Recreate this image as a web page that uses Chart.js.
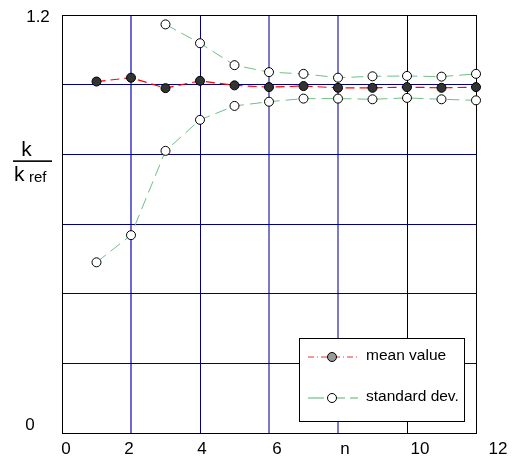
<!DOCTYPE html>
<html>
<head>
<meta charset="utf-8">
<script src="https://cdn.jsdelivr.net/npm/chart.js@4.4.1/dist/chart.umd.min.js"></script>
<style>
  html, body { margin: 0; padding: 0; background: #fff; }
  #wrap { width: 516px; height: 463px; }
</style>
</head>
<body>
<div id="wrap"><canvas id="c" width="516" height="463"></canvas></div>
<script>
// ---- data ----
const xValues    = [1, 2, 3, 4, 5, 6, 7, 8, 9, 10, 11, 12];
const meanValues = [1.009, 1.020, 0.990, 1.011, 0.998, 0.993, 0.996, 0.991, 0.991, 0.993, 0.991, 0.993];
const stdUpper   = [null, null, 1.173, 1.119, 1.056, 1.036, 1.031, 1.020, 1.024, 1.025, 1.023, 1.031];
const stdLower   = [0.490, 0.568, 0.810, 0.899, 0.939, 0.951, 0.960, 0.960, 0.958, 0.962, 0.958, 0.955];
const xTickValues = [0, 2, 4, 6, 8, 10, 12];
const xTickLabels = ['0', '2', '4', '6', 'n', '10', '12'];
const yTickValues = [0, 1.2];
const yTickLabels = ['0', '1.2'];
const legendLabels = ['mean value', 'standard dev.'];

// ---- styles ----
const FONT = '"Liberation Sans", Arial, sans-serif';
const xLabelShift = [4, -2, 2, 8, 7, 13, 22];
const yLabelPos = [{dx: -32, dy: -8}, {dx: -24, dy: 2}];
const xGridStyle = {
  0: {c: '#000', w: 1}, 2: {c: '#6a6ad0', w: 2}, 4: {c: '#000080', w: 1},
  6: {c: '#7a7ac8', w: 2}, 8: {c: '#7a7ac8', w: 2}, 10: {c: '#000', w: 1}, 12: {c: '#000', w: 1}
};

const toPts = (ys) => xValues.map((x, i) => ({x: x, y: ys[i]}));

const meanColor = '#ff0000';
const stdColor = '#6fbf84';

const datasets = [
  {
    label: legendLabels[1], data: toPts(stdUpper),
    borderColor: stdColor, borderWidth: 1, borderDash: [12, 6],
    pointRadius: 4.5, pointBackgroundColor: '#fff', pointBorderColor: '#000', pointBorderWidth: 1,
    spanGaps: false, clip: false, order: 3
  },
  {
    label: '_lower', data: toPts(stdLower),
    borderColor: stdColor, borderWidth: 1, borderDash: [12, 6],
    pointRadius: 4.5, pointBackgroundColor: '#fff', pointBorderColor: '#000', pointBorderWidth: 1,
    clip: false, order: 2
  },
  {
    label: legendLabels[0], data: toPts(meanValues),
    borderColor: meanColor, borderWidth: 1.2, borderDash: [9, 5],
    pointRadius: 4.5, pointBackgroundColor: '#333', pointBorderColor: '#000', pointBorderWidth: 1,
    clip: false, order: 1
  }
];

const decor = {
  id: 'decor',
  afterDraw(chart) {
    const ctx = chart.ctx;
    const xs = chart.scales.x, ys = chart.scales.y;
    ctx.save();
    ctx.fillStyle = '#000';
    // x tick labels
    ctx.font = '17px ' + FONT;
    ctx.textAlign = 'center';
    ctx.textBaseline = 'middle';
    xTickValues.forEach((v, i) => {
      ctx.fillText(xTickLabels[i], xs.getPixelForValue(v) + xLabelShift[i], ys.bottom + 16);
    });
    // y tick labels
    yTickValues.forEach((v, i) => {
      ctx.fillText(yTickLabels[i], xs.left + yLabelPos[i].dx, ys.getPixelForValue(v) + yLabelPos[i].dy);
    });
    // y axis title: k / k_ref
    const cy = ys.getPixelForValue(0.8) + 6;
    ctx.font = '21px ' + FONT;
    ctx.textBaseline = 'alphabetic';
    ctx.fillText('k', 26.5, cy - 4);
    ctx.fillRect(13, cy, 39, 1.6);
    ctx.textAlign = 'left';
    ctx.fillText('k', 14, cy + 21);
    ctx.font = '15px ' + FONT;
    ctx.fillText('ref', 29, cy + 22);

    // legend
    const bx = xs.right - 177, by = ys.bottom - 95, bw = 165, bh = 83;
    ctx.fillStyle = '#fff';
    ctx.fillRect(bx, by, bw, bh);
    ctx.strokeStyle = '#000';
    ctx.lineWidth = 1;
    ctx.setLineDash([]);
    ctx.strokeRect(bx + 0.5, by + 0.5, bw, bh);
    const items = [
      {label: legendLabels[0], color: '#e83030', dash: [6, 3, 1, 3], fill: '#9a9a9a', y: by + 19, w: 1},
      {label: legendLabels[1], color: '#a8d8b4', dash: [16, 5], fill: '#fff', y: by + 60, w: 2}
    ];
    items.forEach(it => {
      ctx.strokeStyle = it.color;
      ctx.lineWidth = it.w;
      ctx.setLineDash(it.dash);
      ctx.beginPath();
      ctx.moveTo(bx + 9, it.y);
      ctx.lineTo(bx + 59, it.y);
      ctx.stroke();
      ctx.setLineDash([]);
      ctx.beginPath();
      ctx.arc(bx + 33, it.y, 4.5, 0, Math.PI * 2);
      ctx.fillStyle = it.fill;
      ctx.fill();
      ctx.strokeStyle = '#000';
      ctx.lineWidth = 1;
      ctx.stroke();
      ctx.fillStyle = '#000';
      ctx.font = '15.5px ' + FONT;
      ctx.textAlign = 'left';
      ctx.textBaseline = 'middle';
      ctx.fillText(it.label, bx + 67, it.y - 1);
    });
    ctx.restore();
  }
};

new Chart(document.getElementById('c'), {
  type: 'line',
  data: { datasets: datasets },
  options: {
    responsive: false,
    animation: false,
    devicePixelRatio: 1,
    layout: { padding: { left: 62, right: 40, top: 15, bottom: 30 } },
    plugins: { legend: { display: false }, tooltip: { enabled: false } },
    scales: {
      x: {
        type: 'linear', min: 0, max: 12,
        ticks: { stepSize: 2, display: false },
        grid: {
          drawTicks: false,
          color: (c) => (xGridStyle[c.tick.value] || {c: '#000080'}).c,
          lineWidth: (c) => (xGridStyle[c.tick.value] || {w: 1}).w
        },
        border: { display: true, color: '#000', width: 1 }
      },
      y: {
        type: 'linear', min: 0, max: 1.2,
        ticks: { stepSize: 0.2, display: false },
        grid: {
          drawTicks: false, lineWidth: 1,
          color: (c) => (Math.abs(c.tick.value - 1.2) < 1e-6 || c.tick.value === 0) ? '#000' : '#000080'
        },
        border: { display: true, color: '#000', width: 1 }
      }
    }
  },
  plugins: [decor]
});
</script>
</body>
</html>
